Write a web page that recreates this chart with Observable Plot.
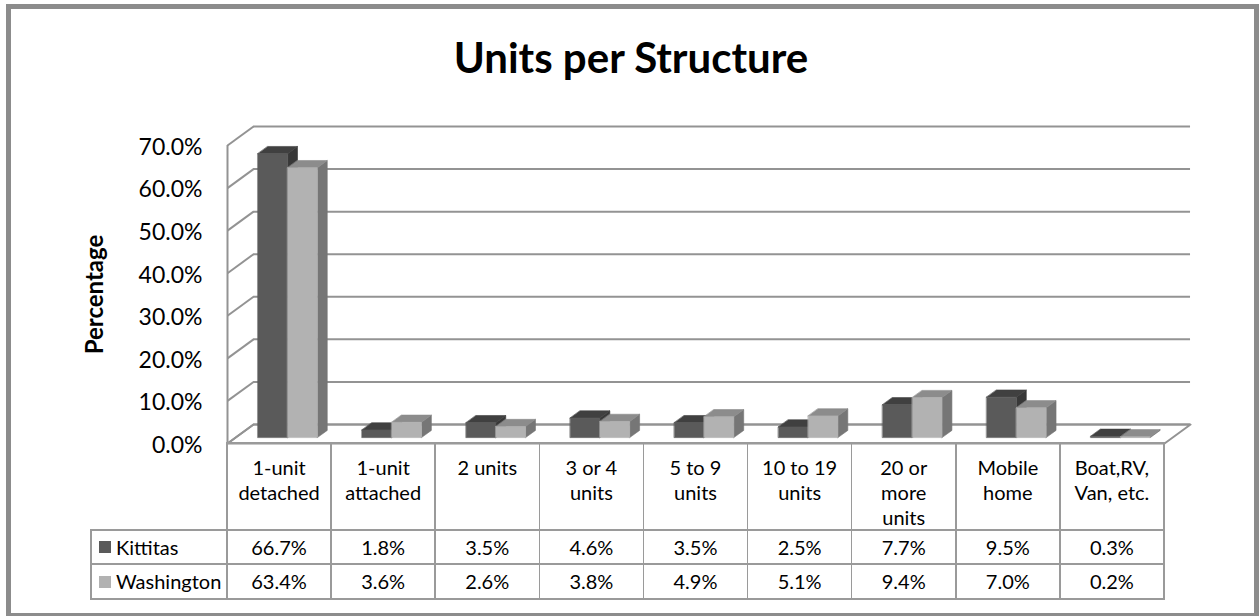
<!DOCTYPE html>
<html><head><meta charset="utf-8">
<script src="https://cdn.jsdelivr.net/npm/d3@7"></script>
<script src="https://cdn.jsdelivr.net/npm/@observablehq/plot@0.6"></script>
<style>
html,body{margin:0;padding:0;background:#fff;}
#root{position:relative;width:1259px;height:616px;overflow:hidden;font-family:Lato,"Noto Sans",sans-serif;color:#000;}
#frame{position:absolute;left:6px;top:4px;width:1253px;height:614px;border:5px solid #8c8c8c;box-sizing:border-box;}
#title{position:absolute;left:0;top:31.5px;width:1262px;text-align:center;font-weight:700;font-size:42px;line-height:1.2;}
#chart{position:absolute;left:0;top:0;}
.tl{position:absolute;background:#9a9a9a;}
.tc{position:absolute;text-align:center;font-size:20px;white-space:pre;}
.lg{position:absolute;font-size:20px;white-space:pre;}
.sw{position:absolute;width:12px;height:12px;}
</style></head>
<body><div id="root"><div id="chart"></div><div id="table"></div><div id="frame"></div><div id="title">Units per Structure</div></div>
<script>
// ---- data ----
const categories = ["1-unit detached","1-unit attached","2 units","3 or 4 units","5 to 9 units","10 to 19 units","20 or more units","Mobile home","Boat,RV, Van, etc."];
const categoryLabels = ["1-unit\ndetached","1-unit\nattached","2 units","3 or 4\nunits","5 to 9\nunits","10 to 19\nunits","20 or\nmore\nunits","Mobile\nhome","Boat,RV,\nVan, etc."];
const seriesNames = ["Kittitas","Washington"];
const kittitas = [66.7,1.8,3.5,4.6,3.5,2.5,7.7,9.5,0.3];
const washington = [63.4,3.6,2.6,3.8,4.9,5.1,9.4,7.0,0.2];
const kittitasLabels = ["66.7%","1.8%","3.5%","4.6%","3.5%","2.5%","7.7%","9.5%","0.3%"];
const washingtonLabels = ["63.4%","3.6%","2.6%","3.8%","4.9%","5.1%","9.4%","7.0%","0.2%"];
const yTicks = [0,10,20,30,40,50,60,70];
const yTickLabels = ["0.0%","10.0%","20.0%","30.0%","40.0%","50.0%","60.0%","70.0%"];

// ---- 3D projection helpers (depth in data units) ----
const DEPTH_X = 0.25, DEPTH_Y = 4.46;
const ZF = 0.31, ZB = 0.69;
const BAR = 1 / 3.5;
const P = (x, v, z) => ({x: x + z * DEPTH_X, y: v + z * DEPTH_Y});
const GRID = "#939393";

const series = [
  {name: seriesNames[0], values: kittitas, front: "#5a5a5a", top: "#404040", side: "#383838"},
  {name: seriesNames[1], values: washington, front: "#b2b2b2", top: "#8c8c8c", side: "#767676"}
];

function faces(s, si) {
  const out = {front: [], top: [], side: []};
  s.values.forEach((v, i) => {
    const x0 = i + 0.5 - BAR + si * BAR, x1 = x0 + BAR;
    const id = si + "-" + i + "-" + categories[i];
    const tag = p => ({...p, id});
    out.front.push(...[P(x0,0,ZF),P(x1,0,ZF),P(x1,v,ZF),P(x0,v,ZF)].map(tag));
    out.top.push(...[P(x0,v,ZF),P(x1,v,ZF),P(x1,v,ZB),P(x0,v,ZB)].map(tag));
    out.side.push(...[P(x1,0,ZF),P(x1,0,ZB),P(x1,v,ZB),P(x1,v,ZF)].map(tag));
  });
  return out;
}

const barMarks = [];
series.forEach((s, si) => {
  const f = faces(s, si);
  for (const k of ["side","top","front"]) {
    barMarks.push(Plot.line(f[k], {x: "x", y: "y", z: "id", curve: "linear-closed",
      fill: s[k], stroke: s[k], strokeWidth: 0.6}));
  }
});

const floor = [P(0,0,0), P(categories.length,0,0), P(categories.length,0,1), P(0,0,1)];

const chart = Plot.plot({
  width: 1259, height: 616,
  marginLeft: 227, marginRight: 95, marginTop: 145, marginBottom: 173,
  x: {type: "linear", domain: [0, categories.length], axis: null},
  y: {domain: [0, 70], axis: null},
  style: {fontFamily: "Lato, 'Noto Sans', sans-serif", background: "transparent", overflow: "visible", color: "#000"},
  marks: [
    Plot.line(floor, {x: "x", y: "y", curve: "linear-closed", fill: "white", stroke: GRID, strokeWidth: 2}),
    Plot.ruleY(yTicks, {y: d => d + DEPTH_Y, x1: () => DEPTH_X, x2: () => categories.length + DEPTH_X, stroke: GRID, strokeWidth: 2}),
    Plot.link(yTicks, {x1: () => 0, y1: d => d, x2: () => DEPTH_X, y2: d => d + DEPTH_Y, stroke: GRID, strokeWidth: 2}),
    Plot.ruleX([0], {y1: () => 0, y2: () => 70, stroke: GRID, strokeWidth: 2}),
    ...barMarks,
    Plot.axisY(yTicks, {anchor: "left", tickSize: 0, tickPadding: 25, label: null,
      tickFormat: d => yTickLabels[yTicks.indexOf(d)], fontSize: 23, fill: "#000", dy: 2}),
    Plot.text(["Percentage"], {frameAnchor: "left", textAnchor: "middle", dx: -132, rotate: -90, fontSize: 24, fontWeight: "bold", fill: "#000"})
  ]
});
document.getElementById("chart").appendChild(chart);

// ---- data table (columns aligned with the Plot x scale) ----
const xs = chart.scale("x");
const X = c => xs.apply(c);
const tbl = document.getElementById("table");
const T0 = 443, T1 = 530, T2 = 564, T3 = 599, LEFT = 91;
function line(x, y, w, h) {
  const d = document.createElement("div"); d.className = "tl";
  Object.assign(d.style, {left: x + "px", top: y + "px", width: w + "px", height: h + "px"});
  tbl.appendChild(d);
}
function text(cls, x, y, w, h, s, extra) {
  const d = document.createElement("div"); d.className = cls; d.textContent = s;
  Object.assign(d.style, {left: x + "px", top: y + "px", width: w + "px", height: h + "px"}, extra || {});
  tbl.appendChild(d);
}
const xR = X(categories.length);
line(X(0) - 0.75, T0 - 0.75, xR - X(0) + 1.5, 1.5);
[T1, T2, T3].forEach(y => line(LEFT - 0.75, y - 0.75, xR - LEFT + 1.5, 1.5));
for (let c = 0; c <= categories.length; c++) line(X(c) - 0.75, T0 - 0.75, 1.5, T3 - T0 + 1.5);
line(LEFT - 0.75, T1 - 0.75, 1.5, T3 - T1 + 1.5);

categoryLabels.forEach((lab, i) => {
  const x0 = X(i), w = X(i + 1) - X(i);
  text("tc", x0, T0 + 11.5, w, 80, lab, {lineHeight: "25px"});
  text("tc", x0, T1, w, T2 - T1, kittitasLabels[i], {lineHeight: (T2 - T1) + "px"});
  text("tc", x0, T2, w, T3 - T2, washingtonLabels[i], {lineHeight: (T3 - T2) + "px"});
});
[[T1, T2], [T2, T3]].forEach(([a, b], si) => {
  const sw = document.createElement("div"); sw.className = "sw";
  Object.assign(sw.style, {left: "99px", top: ((a + b) / 2 - 6) + "px", background: series[si].front});
  tbl.appendChild(sw);
  text("lg", 116, a, 110, b - a, seriesNames[si], {lineHeight: (b - a) + "px"});
});
</script>
</body></html>
